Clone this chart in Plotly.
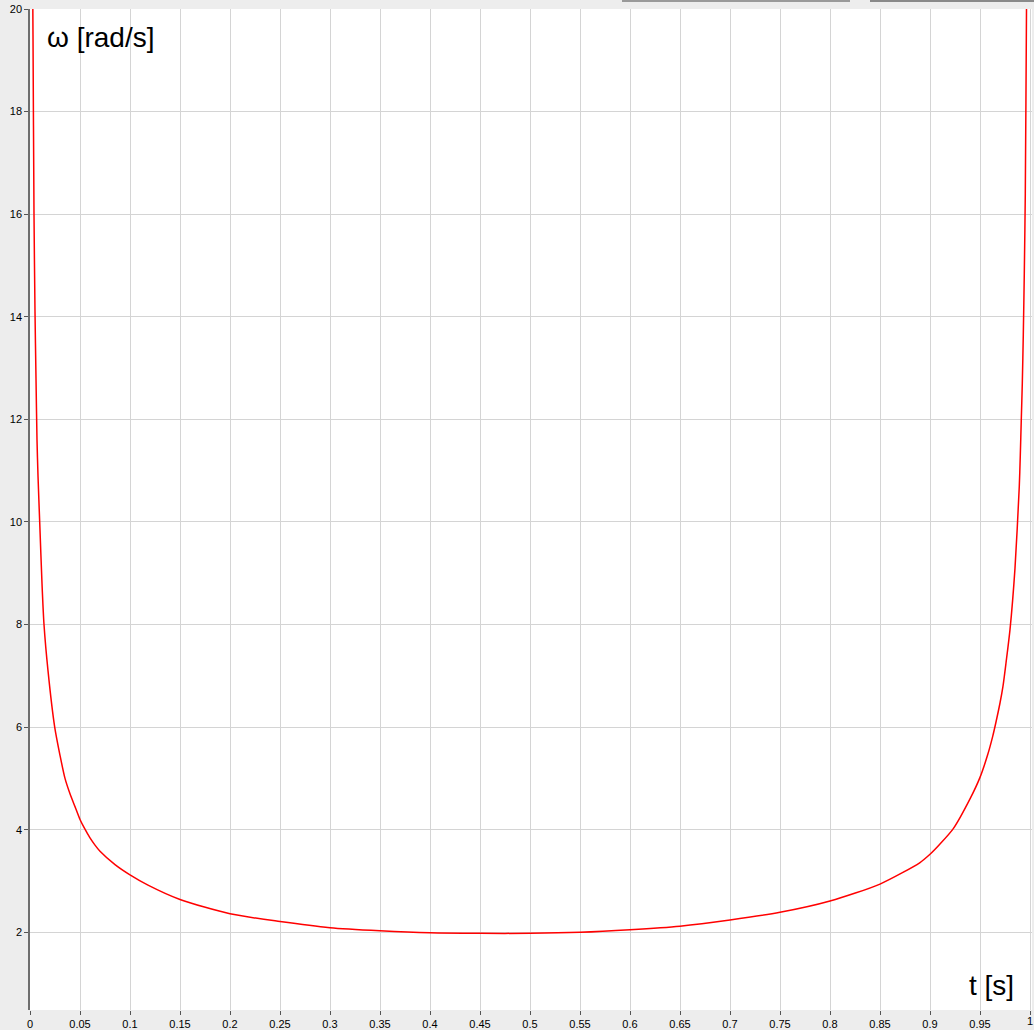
import plotly.graph_objects as go

# time [s]
t_vals = [0.0025, 0.003, 0.004, 0.005, 0.006, 0.007, 0.008, 0.0097, 0.012, 0.014,
          0.018, 0.0247, 0.03, 0.035, 0.04, 0.045, 0.05, 0.0547, 0.06, 0.065, 0.07, 0.085, 0.1, 0.118, 0.15,
          0.2, 0.25, 0.3, 0.35, 0.4, 0.45, 0.5, 0.55, 0.6, 0.65,
          0.7, 0.75, 0.8, 0.85, 0.89, 0.9, 0.91, 0.9233, 0.94, 0.95, 0.9575, 0.9627, 0.966, 0.97,
          0.973, 0.976, 0.98, 0.985, 0.9893, 0.9903, 0.9913, 0.9923, 0.9933, 0.9943, 0.9953,
          0.9965, 0.9969]
# angular velocity [rad/s]
omega_vals = [21.0, 19.5, 16.0, 14.1, 12.8, 11.6, 10.9, 10.0, 8.8, 8.0,
              7.1, 6.0, 5.45, 5.0, 4.7, 4.45, 4.2, 4.02, 3.84, 3.7, 3.58, 3.32, 3.12, 2.92, 2.64,
              2.36, 2.21, 2.09, 2.03, 1.99, 1.98, 1.98, 2.0, 2.05, 2.12,
              2.24, 2.39, 2.61, 2.94, 3.36, 3.52, 3.72, 4.02, 4.6, 5.02, 5.45, 5.82, 6.1, 6.47,
              6.8, 7.25, 7.9, 9.1, 10.7, 11.3, 12.0, 12.7, 13.65, 14.85, 16.4,
              20.0, 21.0]

x_ticks = [0, 0.05, 0.1, 0.15, 0.2, 0.25, 0.3, 0.35, 0.4, 0.45, 0.5,
           0.55, 0.6, 0.65, 0.7, 0.75, 0.8, 0.85, 0.9, 0.95, 1]
x_tick_text = ["0", "0.05", "0.1", "0.15", "0.2", "0.25", "0.3", "0.35", "0.4", "0.45", "0.5",
               "0.55", "0.6", "0.65", "0.7", "0.75", "0.8", "0.85", "0.9", "0.95", "1"]
y_ticks = [2, 4, 6, 8, 10, 12, 14, 16, 18, 20]

W, H = 1034, 1030
ML, MR, MT, MB = 30, 2, 9, 20
FONT = "Liberation Sans, Arial, sans-serif"

fig = go.Figure()
fig.add_trace(go.Scatter(x=t_vals, y=omega_vals, mode="lines",
                         line=dict(color="#ff0000", width=1.5, shape="spline", smoothing=0.7),
                         showlegend=False, hoverinfo="skip"))

tickfont = dict(family=FONT, size=11, color="#000000")

# the last x label sits on the right edge; plotly drops it there, so draw it as an annotation
shown_text = x_tick_text[:-1] + [""]

fig.update_layout(
    width=W, height=H,
    margin=dict(l=ML, r=MR, t=MT, b=MB, pad=0, autoexpand=False),
    paper_bgcolor="#ededed",
    plot_bgcolor="#ffffff",
    xaxis=dict(range=[0, 1.002], tickmode="array", tickvals=x_ticks, ticktext=shown_text,
               showgrid=True,
               gridcolor="#d4d4d4", gridwidth=1, zeroline=False,
               showline=False, ticks="outside", ticklen=4, tickcolor="#555555",
               tickfont=tickfont, fixedrange=True, automargin=False),
    yaxis=dict(range=[0.485, 20], tickvals=y_ticks, showgrid=True,
               gridcolor="#d4d4d4", gridwidth=1, zeroline=False,
               showline=True, linecolor="#6e6e6e", linewidth=1.5,
               ticks="outside", ticklen=4, tickcolor="#555555",
               tickfont=tickfont, fixedrange=True, automargin=False),
    annotations=[
        dict(text="ω [rad/s]", xref="paper", yref="paper",
             x=(45 - ML) / (W - ML - MR), y=(H - MB - 37) / (H - MT - MB),
             xanchor="left", yanchor="middle", showarrow=False,
             font=dict(family=FONT, size=28, color="#000000")),
        dict(text="t [s]", xref="paper", yref="paper",
             x=(1016 - ML) / (W - ML - MR), y=(H - MB - 985) / (H - MT - MB),
             xanchor="right", yanchor="middle", showarrow=False,
             font=dict(family=FONT, size=28, color="#000000")),
        dict(text=x_tick_text[-1], xref="x", yref="paper",
             x=x_ticks[-1], y=-4.5 / (H - MT - MB),
             xanchor="center", yanchor="top", showarrow=False,
             font=tickfont, borderpad=0),
    ],
)

# thin dark strip at the very top of the window
pw, ph = W - ML - MR, H - MT - MB
def px_x(p):
    return (p - ML) / pw
def px_y(p):
    return (H - MB - p) / ph
fig.add_shape(type="rect", xref="paper", yref="paper",
              x0=px_x(622), x1=px_x(850), y0=px_y(2), y1=px_y(0),
              fillcolor="#9a9a9a", line=dict(width=0), layer="above")
fig.add_shape(type="rect", xref="paper", yref="paper",
              x0=px_x(870), x1=px_x(1034), y0=px_y(2), y1=px_y(0),
              fillcolor="#8a8a8a", line=dict(width=0), layer="above")

fig.write_html(
    "out.html",
    config={"displayModeBar": False},
    post_script="document.body.style.margin='0';document.body.style.padding='0';"
                "document.body.style.overflow='hidden';"
                "document.body.style.background='#ededed';",
)
